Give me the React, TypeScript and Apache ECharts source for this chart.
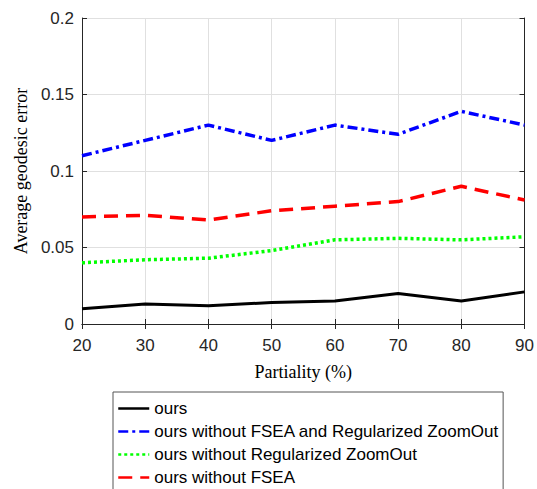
import React, { useEffect, useRef } from "react";
import * as echarts from "echarts";

const partiality = [20, 30, 40, 50, 60, 70, 80, 90];
const ours = [0.01, 0.013, 0.012, 0.014, 0.015, 0.02, 0.015, 0.021];
const noFseaNoReg = [0.11, 0.12, 0.13, 0.12, 0.13, 0.124, 0.139, 0.13];
const noReg = [0.04, 0.042, 0.043, 0.048, 0.055, 0.056, 0.055, 0.057];
const noFsea = [0.07, 0.071, 0.068, 0.074, 0.077, 0.08, 0.09, 0.081];
const seriesNames = [
  "ours",
  "ours without FSEA and Regularized ZoomOut",
  "ours without Regularized ZoomOut",
  "ours without FSEA",
];

const pair = (ys: number[]) => partiality.map((x, i) => [x, ys[i]]);

export default function App() {
  const ref = useRef<HTMLDivElement>(null);
  useEffect(() => {
    if (!ref.current) return;
    const chart = echarts.init(ref.current, undefined, { renderer: "svg" });
    const axisColor = "#262626";
    const labelFont = { fontFamily: "Liberation Sans, Arial, sans-serif", fontSize: 17, color: axisColor };
    const nameFont = { fontFamily: "Liberation Serif, Times New Roman, serif", fontSize: 18, color: "#000" };
    chart.setOption({
      animation: false,
      backgroundColor: "#fff",
      grid: { left: 82, right: 10, top: 18, height: 306, containLabel: false },
      xAxis: [
        {
          type: "value",
          min: 20,
          max: 90,
          interval: 10,
          name: "Partiality (%)",
          nameLocation: "middle",
          nameGap: 39,
          nameTextStyle: nameFont,
          axisLine: { show: true, lineStyle: { color: axisColor, width: 1 } },
          axisTick: { show: true, inside: true, length: 5, lineStyle: { color: axisColor } },
          axisLabel: { ...labelFont, margin: 13 },
          splitLine: { show: true, lineStyle: { color: "#e0e0e0", width: 1 } },
        },
        {
          type: "value",
          position: "top",
          min: 20,
          max: 90,
          interval: 10,
          axisLine: { show: true, lineStyle: { color: axisColor, width: 1 } },
          axisTick: { show: true, inside: true, length: 5, lineStyle: { color: axisColor } },
          axisLabel: { show: false },
          splitLine: { show: false },
        },
      ],
      yAxis: [
        {
          type: "value",
          min: 0,
          max: 0.2,
          interval: 0.05,
          name: "Average geodesic error",
          nameLocation: "middle",
          nameGap: 52,
          nameTextStyle: nameFont,
          axisLine: { show: true, lineStyle: { color: axisColor, width: 1 } },
          axisTick: { show: true, inside: true, length: 5, lineStyle: { color: axisColor } },
          axisLabel: { ...labelFont, margin: 8 },
          splitLine: { show: true, lineStyle: { color: "#e0e0e0", width: 1 } },
        },
        {
          type: "value",
          position: "right",
          min: 0,
          max: 0.2,
          interval: 0.05,
          axisLine: { show: true, lineStyle: { color: axisColor, width: 1 } },
          axisTick: { show: true, inside: true, length: 5, lineStyle: { color: axisColor } },
          axisLabel: { show: false },
          splitLine: { show: false },
        },
      ],
      legend: {
        orient: "vertical",
        left: 113,
        top: 392,
        padding: [8, 4, 8, 4],
        itemWidth: 31,
        itemHeight: 16,
        itemGap: 6,
        borderColor: "#555",
        borderWidth: 1,
        backgroundColor: "#fff",
        itemStyle: { opacity: 0 },
        lineStyle: { width: 2.5 },
        data: seriesNames,
        textStyle: { fontFamily: "Liberation Sans, Arial, sans-serif", fontSize: 17, color: "#000" },
      },
      series: [
        {
          name: seriesNames[0],
          type: "line",
          data: pair(ours),
          showSymbol: false,
          symbol: "none",
          lineStyle: { color: "#000", width: 3, type: "solid" },
          itemStyle: { color: "#000" },
          z: 5,
        },
        {
          name: seriesNames[1],
          type: "line",
          data: pair(noFseaNoReg),
          showSymbol: false,
          symbol: "none",
          lineStyle: { color: "#0000ff", width: 3.5, type: [10, 4, 3, 4] },
          itemStyle: { color: "#0000ff" },
        },
        {
          name: seriesNames[2],
          type: "line",
          data: pair(noReg),
          showSymbol: false,
          symbol: "none",
          lineStyle: { color: "#00ff00", width: 3.5, type: [3, 3] },
          itemStyle: { color: "#00ff00" },
        },
        {
          name: seriesNames[3],
          type: "line",
          data: pair(noFsea),
          showSymbol: false,
          symbol: "none",
          lineStyle: { color: "#ff0000", width: 3.5, type: [14, 8] },
          itemStyle: { color: "#ff0000" },
        },
      ],
    });
    return () => chart.dispose();
  }, []);
  return (
    <div
      ref={ref}
      style={{ position: "fixed", left: 0, top: 0, width: 537, height: 530, background: "#fff" }}
    />
  );
}
